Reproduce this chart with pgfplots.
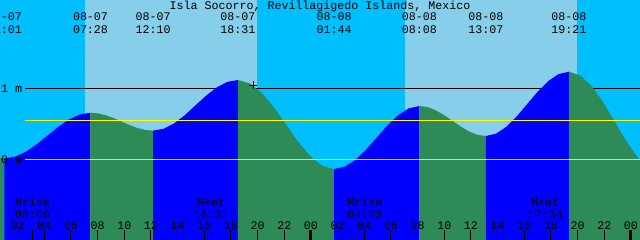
\documentclass[border=0pt]{standalone}
\usepackage{fontspec}
\setmainfont{Liberation Mono}
\usepackage{pgfplots}
\pgfplotsset{compat=1.18}
\definecolor{nightc}{RGB}{0,191,255}
\definecolor{dayc}{RGB}{135,206,235}
\definecolor{risec}{RGB}{0,0,255}
\definecolor{fallc}{RGB}{46,139,87}
\definecolor{datumc}{RGB}{176,224,230}
\definecolor{mslc}{RGB}{255,255,0}
\begin{document}
\begin{tikzpicture}[font=\fontsize{11.7}{12}\selectfont]
\begin{axis}[name=ax, width=640bp, height=240bp, scale only axis,
  xmin=0.68, xmax=48.68, ymin=-1.1366, ymax=2.2437,
  axis line style={draw=none},
  axis background/.style={fill=nightc},
  axis on top=true,
  ytick=\empty,
  xtick={2,4,6,8,10,12,14,16,18,20,22,26,28,30,32,34,36,38,40,42,44,46},
  xticklabels={02,04,06,08,10,12,14,16,18,20,22,02,04,06,08,10,12,14,16,18,20,22},
  extra x ticks={24,48}, extra x tick labels={00,00},
  extra x tick style={tick style={line width=3bp}},
  minor xtick={3.1,16.517,28.05,41.567},
  xtick pos=left, tick align=inside,
  major tick length=10bp, minor tick length=10bp,
  tick style={black, line width=1bp},
  xticklabel style={anchor=base, yshift=10bp, inner sep=0pt, font=\fontsize{11.7}{12}\selectfont},
  clip=true,
]
% day periods
\addplot[fill=dayc, draw=none] coordinates {(7.055,-2) (7.055,3) (19.955,3) (19.955,-2)};
\addplot[fill=dayc, draw=none] coordinates {(31.055,-2) (31.055,3) (43.955,3) (43.955,-2)};
% 1 m line (behind the tide)
\addplot[black, line width=1bp] coordinates {(2.555,1) (48.8,1)};
% tide: falling green, rising blue
\addplot[fill=fallc, draw=none] coordinates {(0.5,-1.2) (0.5,0.017) (0.68,0.016) (1.017,0.014) (1.017,-1.2)};
\addplot[fill=risec, draw=none] coordinates {(1.017,-1.2) (1.017,0.014) (1.823,0.038) (2.630,0.108) (3.436,0.212) (4.242,0.335) (5.048,0.458) (5.855,0.562) (6.661,0.632) (7.467,0.656) (7.467,-1.2)};
\addplot[fill=fallc, draw=none] coordinates {(7.467,-1.2) (7.467,0.656) (8.054,0.646) (8.642,0.619) (9.229,0.578) (9.817,0.530) (10.404,0.481) (10.992,0.440) (11.579,0.413) (12.167,0.403) (12.167,-1.2)};
\addplot[fill=risec, draw=none] coordinates {(12.167,-1.2) (12.167,0.403) (12.961,0.430) (13.754,0.508) (14.548,0.623) (15.342,0.760) (16.136,0.897) (16.929,1.012) (17.723,1.090) (18.517,1.117) (18.517,-1.2)};
\addplot[fill=fallc, draw=none] coordinates {(18.517,-1.2) (18.517,1.117) (19.419,1.069) (20.321,0.933) (21.223,0.730) (22.125,0.490) (23.027,0.250) (23.929,0.047) (24.831,-0.089) (25.733,-0.137) (25.733,-1.2)};
\addplot[fill=risec, draw=none] coordinates {(25.733,-1.2) (25.733,-0.137) (26.533,-0.103) (27.333,-0.007) (28.133,0.137) (28.933,0.307) (29.733,0.477) (30.533,0.621) (31.333,0.717) (32.133,0.751) (32.133,-1.2)};
\addplot[fill=fallc, draw=none] coordinates {(32.133,-1.2) (32.133,0.751) (32.756,0.735) (33.379,0.689) (34.002,0.620) (34.625,0.540) (35.248,0.459) (35.871,0.390) (36.494,0.344) (37.117,0.328) (37.117,-1.2)};
\addplot[fill=risec, draw=none] coordinates {(37.117,-1.2) (37.117,0.328) (37.896,0.362) (38.675,0.461) (39.454,0.608) (40.233,0.781) (41.013,0.954) (41.792,1.101) (42.571,1.200) (43.35,1.234) (43.35,-1.2)};
\addplot[fill=fallc, draw=none] coordinates {(43.35,-1.2) (43.35,1.234) (44.219,1.179) (45.088,1.024) (45.956,0.791) (46.825,0.517) (47.694,0.243) (48.563,0.010) (48.68,-0.017) (48.8,-0.04) (48.8,-1.2)};
% datum and mean sea level
\addplot[datumc, line width=1bp] coordinates {(2.555,0) (48.8,0)};
\addplot[mslc, line width=1bp] coordinates {(2.555,0.549) (48.8,0.549)};
% now marker
\addplot[only marks, mark=+, mark size=4bp, black, mark options={line width=1bp}] coordinates {(19.66,1.045)};
% labels
\node[anchor=base] at (axis cs:24.68,2.110) {Isla Socorro, Revillagigedo Islands, Mexico};
\node[anchor=west, inner sep=0pt] at (axis cs:0.755,1) {1 m};
\node[anchor=west, inner sep=0pt] at (axis cs:0.755,0) {0 m};
\node[anchor=base] at (axis cs:1.017,1.948) {08-07};
\node[anchor=base] at (axis cs:1.017,1.765) {01:01};
\node[anchor=base] at (axis cs:7.467,1.948) {08-07};
\node[anchor=base] at (axis cs:7.467,1.765) {07:28};
\node[anchor=base] at (axis cs:12.167,1.948) {08-07};
\node[anchor=base] at (axis cs:12.167,1.765) {12:10};
\node[anchor=base] at (axis cs:18.517,1.948) {08-07};
\node[anchor=base] at (axis cs:18.517,1.765) {18:31};
\node[anchor=base] at (axis cs:25.733,1.948) {08-08};
\node[anchor=base] at (axis cs:25.733,1.765) {01:44};
\node[anchor=base] at (axis cs:32.133,1.948) {08-08};
\node[anchor=base] at (axis cs:32.133,1.765) {08:08};
\node[anchor=base] at (axis cs:37.117,1.948) {08-08};
\node[anchor=base] at (axis cs:37.117,1.765) {13:07};
\node[anchor=base] at (axis cs:43.35,1.948) {08-08};
\node[anchor=base] at (axis cs:43.35,1.765) {19:21};
\node[anchor=base] at (axis cs:3.1,-0.658) {Mrise};
\node[anchor=base] at (axis cs:3.1,-0.830) {03:06};
\node[anchor=base] at (axis cs:16.517,-0.658) {Mset};
\node[anchor=base] at (axis cs:16.517,-0.830) {16:31};
\node[anchor=base] at (axis cs:28.05,-0.658) {Mrise};
\node[anchor=base] at (axis cs:28.05,-0.830) {04:03};
\node[anchor=base] at (axis cs:41.567,-0.658) {Mset};
\node[anchor=base] at (axis cs:41.567,-0.830) {17:34};
\end{axis}
\pgfresetboundingbox
\useasboundingbox (ax.south west) rectangle (ax.north east);
\end{tikzpicture}
\end{document}
